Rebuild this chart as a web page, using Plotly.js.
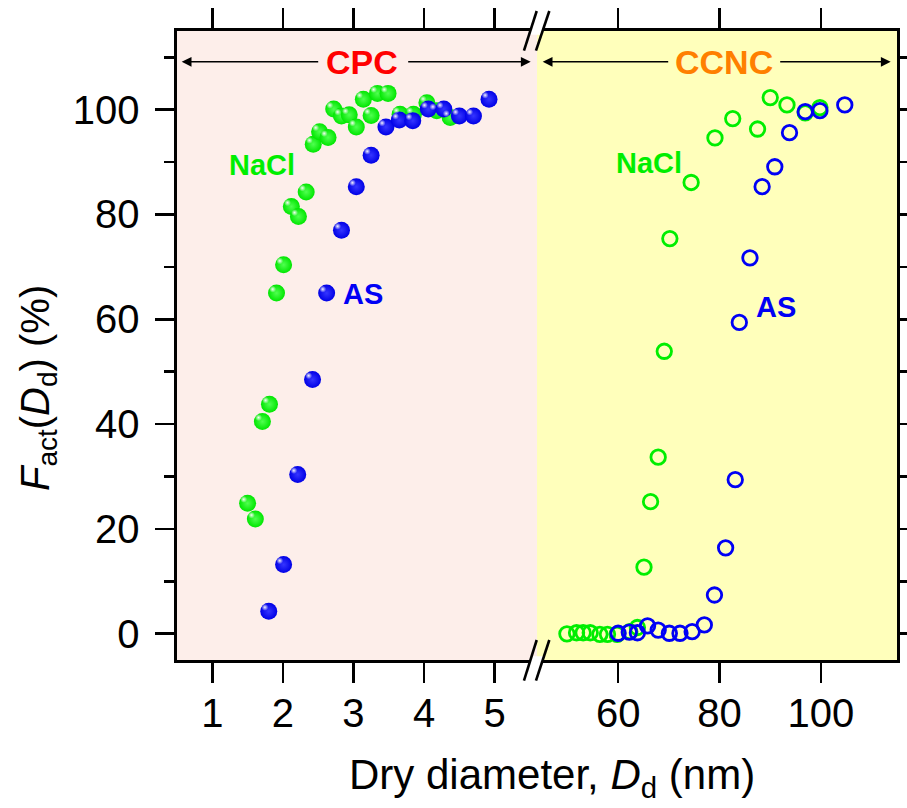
<!DOCTYPE html>
<html>
<head>
<meta charset="utf-8">
<script src="https://cdn.plot.ly/plotly-3.0.1.min.js"></script>
<style>html,body{margin:0;padding:0;background:#fff;}#chart{width:907px;height:808px;}</style>
</head>
<body>
<div id="chart"></div>
<script>
// ---- CPC (left panel), dry diameter in nm, activated fraction in % ----
const cpcNaClD = [1.50,1.61,1.71,1.81,1.91,2.01,2.12,2.22,2.33,2.43,2.52,2.64,2.72,2.83,2.94,3.04,3.14,3.25,3.34,3.49,3.66,3.85,4.04,4.18,4.37];
const cpcNaClF = [24.9,21.9,40.5,43.8,65.0,70.4,81.5,79.6,84.3,93.4,95.8,94.7,100.1,98.8,99.0,96.7,102.0,98.9,103.1,103.1,99.1,99.1,101.3,99.8,98.5];
const cpcASD   = [1.80,2.01,2.21,2.42,2.62,2.83,3.04,3.25,3.46,3.65,3.84,4.06,4.28,4.50,4.70,4.92];
const cpcASF   = [4.3,13.2,30.4,48.5,65.0,77.0,85.3,91.3,96.7,98.0,97.9,100.1,100.1,98.8,98.8,102.0];
// ---- CCNC (right panel) ----
const ccncNaClD = [49.9,51.8,53.1,54.5,56.4,57.9,59.8,62.3,63.8,65.1,66.4,67.9,69.1,70.2,74.4,79.1,82.6,87.5,90.0,93.3,96.9,99.8];
const ccncNaClF = [0.0,0.2,0.2,0.2,-0.1,-0.1,-0.1,0.4,1.2,12.7,25.2,33.7,53.9,75.4,86.1,94.6,98.3,96.3,102.3,100.9,99.4,100.4];
const ccncASD   = [60.0,62.2,63.8,65.8,67.9,70.1,72.2,74.6,77.0,79.0,81.2,83.1,83.9,86.0,88.4,90.9,93.8,96.9,99.8,104.7];
const ccncASF   = [0.1,0.3,0.2,1.5,0.7,0.1,0.1,0.4,1.7,7.4,16.4,29.4,59.4,71.7,85.3,89.1,95.6,99.6,99.8,100.9];
// ---- ticks ----
const cpcTicks  = [1,2,3,4,5];
const ccncTicks = [60,80,100];
const yTicks    = [0,20,40,60,80,100];

const FONT = 'Liberation Sans, Arial, sans-serif';
const GREEN = '#00ee00', BLUE = '#0000f5';

const XR = [0.5,5.6], X2R = [44,115], YR = [-5,115];
// highlight axes: same scales, offset by a few pixels (up-left) to place the sphere shine
const HX = 0.055, HY = 0.75;

const sphere = (c, g) => ({symbol:'circle', size:17, color:c, line:{width:0}, gradient:{type:'radial', color:g}});
const shine = {symbol:'circle', size:7, color:'rgba(255,255,255,0)', line:{width:0}, gradient:{type:'radial', color:'rgba(255,255,255,0.95)'}};
const ring = c => ({symbol:'circle-open', size:14.5, color:c, line:{width:2.8, color:c}});

const traces = [
  {x:cpcNaClD, y:cpcNaClF, xaxis:'x', yaxis:'y', mode:'markers', marker:sphere('#00e600','#50ff50'), cliponaxis:false},
  {x:cpcNaClD, y:cpcNaClF, xaxis:'x3', yaxis:'y3', mode:'markers', marker:shine, cliponaxis:false},
  {x:cpcASD, y:cpcASF, xaxis:'x', yaxis:'y', mode:'markers', marker:sphere('#0000e6','#3535ff'), cliponaxis:false},
  {x:cpcASD, y:cpcASF, xaxis:'x3', yaxis:'y3', mode:'markers', marker:shine, cliponaxis:false},
  {x:ccncNaClD, y:ccncNaClF, xaxis:'x2', yaxis:'y2', mode:'markers', marker:ring(GREEN)},
  {x:ccncASD, y:ccncASF, xaxis:'x2', yaxis:'y2', mode:'markers', marker:ring(BLUE)}
];

const axBase = {
  showgrid:false, zeroline:false, showline:true, linewidth:2.6, linecolor:'#000',
  ticks:'outside', ticklen:20, tickwidth:2.6, tickcolor:'#000',
  tickfont:{family:FONT, size:40, color:'#000'}, fixedrange:true
};
const yMinor = {dtick:10, ticklen:10, tickwidth:2.6, tickcolor:'#000', ticks:'outside'};

const BRK = 0.5;
const slash = (x0,y0,x1,y1) => ({type:'line', xref:'paper', yref:'paper', x0, y0, x1, y1, line:{color:'#000', width:2.6}});
const gap = (yc) => {
  const s = 0.0177/0.0631;
  const ya = yc-0.006, yb = yc+0.006;
  const base = yc===1 ? 0.9687 : -0.0329;
  const xa1 = 0.4819 + (ya-base)*s, xb1 = 0.4819 + (yb-base)*s;
  const xa2 = 0.4986 + (ya-base)*s, xb2 = 0.4986 + (yb-base)*s;
  return {type:'path', xref:'paper', yref:'paper', fillcolor:'#fff', line:{width:0},
    path:`M ${xa1} ${ya} L ${xa2} ${ya} L ${xb2} ${yb} L ${xb1} ${yb} Z`};
};

const shapes = [
  {type:'rect', xref:'paper', yref:'paper', x0:0, x1:BRK, y0:0, y1:1, fillcolor:'#fdeeea', line:{width:0}, layer:'below'},
  {type:'rect', xref:'paper', yref:'paper', x0:BRK, x1:1, y0:0, y1:1, fillcolor:'#ffffbb', line:{width:0}, layer:'below'},
  gap(1), gap(0),
  slash(0.4819,0.9687,0.4996,1.0318), slash(0.4986,0.9687,0.5171,1.0318),
  slash(0.4819,-0.0329,0.4996,0.0318), slash(0.4986,-0.0329,0.5171,0.0318)
];

const lab = (text, x, y, color, size) => ({text, x, y, xref:'paper', yref:'paper', showarrow:false,
  xanchor:'center', yanchor:'middle', font:{family:FONT, size, color}});
const arrow = (x, y, ax) => ({text:'', x, y, xref:'paper', yref:'paper', ax, ay:0, axref:'pixel', ayref:'pixel',
  showarrow:true, arrowhead:2, arrowsize:1.4, arrowwidth:1.4, arrowcolor:'#000', standoff:0, startstandoff:0});

const annotations = [
  lab('<b>CPC</b>', 0.257, 0.951, '#ff0000', 34),
  lab('<b>CCNC</b>', 0.760, 0.951, '#ff7f00', 34),
  lab('<b>NaCl</b>', 0.118, 0.787, GREEN, 29),
  lab('<b>AS</b>', 0.258, 0.582, BLUE, 29),
  lab('<b>NaCl</b>', 0.655, 0.790, GREEN, 29),
  lab('<b>AS</b>', 0.832, 0.562, BLUE, 29),
  arrow((181.7-177)/720, 0.951, 138),
  arrow((530.7-177)/720, 0.951, -124),
  arrow((542.7-177)/720, 0.951, 127),
  arrow((890.7-177)/720, 0.951, -112),
  {text:'Dry diameter, <i>D</i><sub>d</sub> (nm)', x:(551.5-177)/720, y:(660-777)/629, xref:'paper', yref:'paper',
   showarrow:false, xanchor:'center', yanchor:'middle', font:{family:FONT, size:42, color:'#000'}},
  {text:'<i>F</i><sub>act</sub>(<i>D</i><sub>d</sub>) (%)', x:(38-177)/720, y:(660-388)/629, xref:'paper', yref:'paper',
   showarrow:false, xanchor:'center', yanchor:'middle', textangle:-90, font:{family:FONT, size:40, color:'#000'}}
];

const layout = {
  width:907, height:808, margin:{l:177, r:10, t:31, b:148},
  paper_bgcolor:'#fff', plot_bgcolor:'rgba(0,0,0,0)', showlegend:false,
  xaxis:Object.assign({}, axBase, {domain:[0,BRK], range:XR, tickmode:'array', tickvals:cpcTicks, ticktext:cpcTicks.map(String), mirror:'ticks', anchor:'y', ticklabelstandoff:-4}),
  xaxis2:Object.assign({}, axBase, {domain:[BRK,1], range:X2R, tickmode:'array', tickvals:ccncTicks, ticktext:ccncTicks.map(String), mirror:'ticks', anchor:'y2', ticklabelstandoff:-4}),
  yaxis:Object.assign({}, axBase, {range:YR, tickmode:'array', tickvals:yTicks, ticklen:19, anchor:'x', minor:yMinor, ticklabelstandoff:8}),
  yaxis2:Object.assign({}, axBase, {range:YR, matches:'y', tickmode:'array', tickvals:yTicks, ticklen:19, anchor:'x2', side:'right', showticklabels:false, minor:yMinor}),
  xaxis3:{domain:[0,BRK], range:[XR[0]+HX, XR[1]+HX], overlaying:'x', anchor:'y3', visible:false, fixedrange:true},
  yaxis3:{range:[YR[0]-HY, YR[1]-HY], overlaying:'y', anchor:'x3', visible:false, fixedrange:true},
  shapes, annotations
};

Plotly.newPlot('chart', traces, layout, {displayModeBar:false, staticPlot:true});
</script>
</body>
</html>
